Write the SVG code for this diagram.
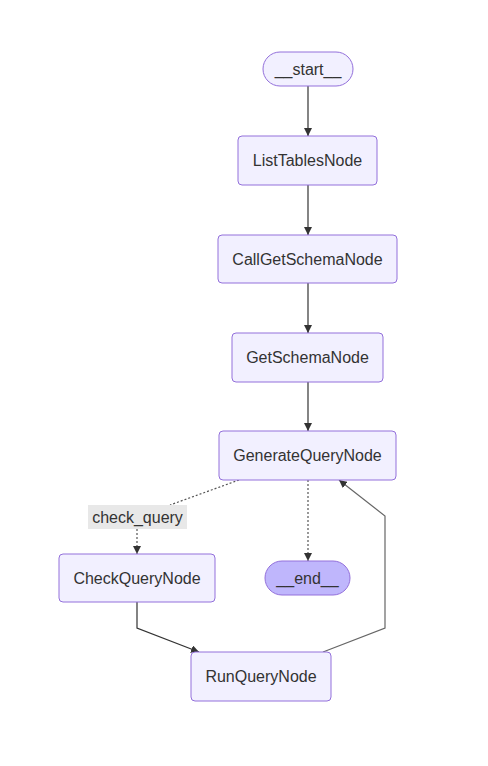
<svg xmlns="http://www.w3.org/2000/svg" width="488" height="766" viewBox="0 0 488 766">
<style>
.n{fill:#f2f0ff;stroke:#9370db;stroke-width:1}
.e{fill:#bfb6fc;stroke:#9370db;stroke-width:1}
.t{font-family:"Liberation Sans",Arial,sans-serif;font-size:16px;fill:#333;text-anchor:middle;dominant-baseline:central}
.c{fill:none;stroke:#333;stroke-width:1.2}
.g{fill:none;stroke:#666;stroke-width:1.2}
.d{fill:none;stroke:#555;stroke-width:1.2;stroke-dasharray:2 2}
</style>
<defs>
<marker id="a" viewBox="0 0 10 10" refX="10" refY="5" markerWidth="8" markerHeight="8" orient="auto" markerUnits="userSpaceOnUse"><path d="M0,0L10,5L0,10z" fill="#333"/></marker>
</defs>
<rect width="488" height="766" fill="#fff"/>
<g id="connectors">
<path class="c" d="M308,86V136" marker-end="url(#a)"/>
<path class="c" d="M308,185V235" marker-end="url(#a)"/>
<path class="c" d="M308,283V333" marker-end="url(#a)"/>
<path class="c" d="M308,382V431" marker-end="url(#a)"/>
<path class="d" d="M239,480L170,505"/>
<path class="d" d="M137,529V554" marker-end="url(#a)"/>
<path class="d" d="M308,480V561" marker-end="url(#a)"/>
<path class="c" d="M137,602V628L199,652" marker-end="url(#a)"/>
<path class="g" d="M323,652L385,628V516L339,480" marker-end="url(#a)"/>
<rect x="88" y="505" width="99" height="24" fill="#e8e8e8"/>
<text class="t" x="137.5" y="517">check_query</text>
</g>
<g id="start"><rect class="n" x="263" y="52" width="90" height="34" rx="17"/><text class="t" x="308" y="69">__start__</text></g>
<g id="ListTablesNode"><rect class="n" x="238" y="136" width="139" height="49" rx="4"/><text class="t" x="307.5" y="160.5">ListTablesNode</text></g>
<g id="CallGetSchemaNode"><rect class="n" x="218" y="235" width="179" height="48" rx="4"/><text class="t" x="307.5" y="259">CallGetSchemaNode</text></g>
<g id="GetSchemaNode"><rect class="n" x="232" y="333" width="151" height="49" rx="4"/><text class="t" x="307.5" y="357.5">GetSchemaNode</text></g>
<g id="GenerateQueryNode"><rect class="n" x="219" y="431" width="177" height="49" rx="4"/><text class="t" x="307.5" y="455.5">GenerateQueryNode</text></g>
<g id="CheckQueryNode"><rect class="n" x="59" y="554" width="156" height="48" rx="4"/><text class="t" x="137" y="578">CheckQueryNode</text></g>
<g id="end"><rect class="e" x="265" y="561" width="85" height="34" rx="17"/><text class="t" x="307.5" y="578">__end__</text></g>
<g id="RunQueryNode"><rect class="n" x="191" y="652" width="140" height="49" rx="4"/><text class="t" x="261" y="676.5">RunQueryNode</text></g>
</svg>
